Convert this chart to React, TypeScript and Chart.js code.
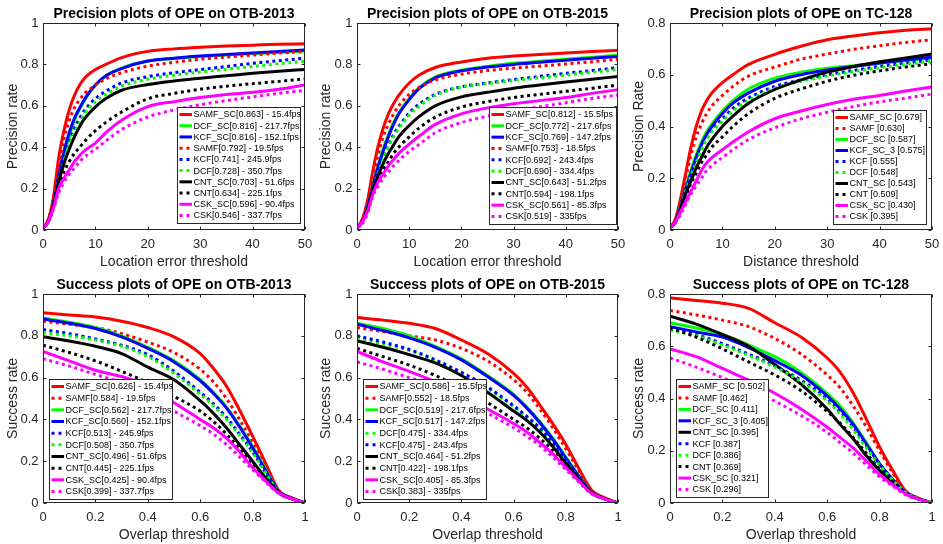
import React, { useEffect, useRef } from "react";
import { Chart, registerables } from "chart.js";
Chart.register(...registerables);

const FONT = "'Liberation Sans', Arial, sans-serif";

// ---- axes / ticks ----
const PREC_X = [0, 1, 2, 3, 4, 5, 6, 7, 8, 10, 12, 15, 20, 25, 30, 35, 40, 45, 50];
const SUCC_X = [0, 0.1, 0.2, 0.3, 0.4, 0.5, 0.6, 0.65, 0.7, 0.75, 0.8, 0.85, 0.9, 0.95, 1];
const PREC_XTICKS = [0, 10, 20, 30, 40, 50];
const UNIT_TICKS = [0, 0.2, 0.4, 0.6, 0.8, 1];
const TC_YTICKS = [0, 0.2, 0.4, 0.6, 0.8];

// ---- Precision OTB-2013 ----
const prec13Labels = ["SAMF_SC[0.863] - 15.4fps", "DCF_SC[0.816] - 217.7fps", "KCF_SC[0.816] - 152.1fps", "SAMF[0.792] - 19.5fps", "KCF[0.741] - 245.9fps", "DCF[0.728] - 350.7fps", "CNT_SC[0.703] - 51.6fps", "CNT[0.634] - 225.1fps", "CSK_SC[0.596] - 90.4fps", "CSK[0.546] - 337.7fps"];
const prec13Values = [
  [0.01, 0.05, 0.16, 0.35, 0.48, 0.58, 0.65, 0.70, 0.735, 0.775, 0.80, 0.833, 0.863, 0.875, 0.883, 0.889, 0.893, 0.897, 0.90],
  [0.01, 0.04, 0.13, 0.25, 0.36, 0.45, 0.53, 0.585, 0.63, 0.70, 0.745, 0.782, 0.816, 0.828, 0.838, 0.846, 0.852, 0.858, 0.865],
  [0.01, 0.04, 0.13, 0.27, 0.38, 0.47, 0.54, 0.59, 0.635, 0.70, 0.745, 0.78, 0.816, 0.83, 0.84, 0.848, 0.855, 0.862, 0.87],
  [0.01, 0.05, 0.15, 0.31, 0.44, 0.53, 0.59, 0.63, 0.66, 0.70, 0.73, 0.76, 0.792, 0.81, 0.825, 0.835, 0.845, 0.855, 0.862],
  [0.01, 0.04, 0.12, 0.24, 0.34, 0.42, 0.49, 0.54, 0.58, 0.635, 0.67, 0.71, 0.741, 0.76, 0.775, 0.79, 0.805, 0.818, 0.83],
  [0.01, 0.04, 0.12, 0.23, 0.33, 0.41, 0.47, 0.52, 0.565, 0.62, 0.655, 0.695, 0.728, 0.748, 0.763, 0.777, 0.79, 0.803, 0.815],
  [0.01, 0.04, 0.12, 0.23, 0.32, 0.39, 0.45, 0.50, 0.54, 0.595, 0.635, 0.675, 0.703, 0.72, 0.733, 0.745, 0.757, 0.767, 0.775],
  [0.01, 0.04, 0.11, 0.21, 0.28, 0.33, 0.37, 0.40, 0.43, 0.48, 0.52, 0.57, 0.634, 0.66, 0.68, 0.695, 0.707, 0.718, 0.73],
  [0.01, 0.04, 0.11, 0.20, 0.25, 0.29, 0.33, 0.36, 0.385, 0.42, 0.47, 0.53, 0.596, 0.62, 0.64, 0.655, 0.665, 0.68, 0.70],
  [0.01, 0.04, 0.10, 0.18, 0.23, 0.27, 0.30, 0.33, 0.355, 0.39, 0.43, 0.485, 0.546, 0.58, 0.605, 0.625, 0.643, 0.66, 0.675],
];

// ---- Precision OTB-2015 ----
const prec15Labels = ["SAMF_SC[0.812] - 15.5fps", "DCF_SC[0.772] - 217.6fps", "KCF_SC[0.769] - 147.2fps", "SAMF[0.753] - 18.5fps", "KCF[0.692] - 243.4fps", "DCF[0.690] - 334.4fps", "CNT_SC[0.643] - 51.2fps", "CNT[0.594] - 198.1fps", "CSK_SC[0.561] - 85.3fps", "CSK[0.519] - 335fps"];
const prec15Values = [
  [0.01, 0.05, 0.14, 0.28, 0.40, 0.49, 0.56, 0.61, 0.65, 0.71, 0.75, 0.785, 0.812, 0.83, 0.84, 0.848, 0.855, 0.862, 0.868],
  [0.01, 0.04, 0.11, 0.22, 0.31, 0.39, 0.46, 0.52, 0.565, 0.635, 0.69, 0.74, 0.772, 0.79, 0.805, 0.815, 0.825, 0.835, 0.845],
  [0.01, 0.04, 0.11, 0.21, 0.30, 0.38, 0.45, 0.51, 0.56, 0.63, 0.685, 0.735, 0.769, 0.787, 0.80, 0.81, 0.82, 0.83, 0.838],
  [0.01, 0.05, 0.13, 0.25, 0.36, 0.45, 0.51, 0.56, 0.60, 0.655, 0.69, 0.725, 0.753, 0.77, 0.782, 0.792, 0.802, 0.813, 0.825],
  [0.01, 0.04, 0.10, 0.20, 0.28, 0.35, 0.41, 0.46, 0.50, 0.565, 0.61, 0.655, 0.692, 0.71, 0.727, 0.742, 0.757, 0.77, 0.785],
  [0.01, 0.04, 0.10, 0.19, 0.27, 0.34, 0.40, 0.45, 0.49, 0.555, 0.60, 0.65, 0.690, 0.707, 0.722, 0.735, 0.748, 0.762, 0.775],
  [0.01, 0.04, 0.10, 0.19, 0.26, 0.32, 0.37, 0.41, 0.45, 0.505, 0.55, 0.60, 0.643, 0.665, 0.685, 0.70, 0.715, 0.728, 0.742],
  [0.01, 0.04, 0.09, 0.18, 0.24, 0.29, 0.33, 0.37, 0.40, 0.45, 0.495, 0.545, 0.594, 0.62, 0.64, 0.655, 0.67, 0.685, 0.70],
  [0.01, 0.04, 0.09, 0.17, 0.23, 0.27, 0.31, 0.34, 0.37, 0.415, 0.455, 0.51, 0.561, 0.59, 0.61, 0.625, 0.64, 0.66, 0.678],
  [0.01, 0.03, 0.08, 0.16, 0.21, 0.25, 0.28, 0.31, 0.335, 0.38, 0.415, 0.47, 0.519, 0.55, 0.575, 0.595, 0.615, 0.635, 0.652],
];

// ---- Precision TC-128 ----
const precTCLabels = ["SAMF_SC [0.679]", "SAMF [0.630]", "DCF_SC [0.587]", "KCF_SC_3 [0.575]", "KCF [0.555]", "DCF [0.548]", "CNT_SC [0.543]", "CNT [0.509]", "CSK_SC [0.430]", "CSK [0.395]"];
const precTCValues = [
  [0.01, 0.04, 0.12, 0.22, 0.32, 0.40, 0.46, 0.50, 0.53, 0.57, 0.60, 0.64, 0.679, 0.71, 0.735, 0.75, 0.762, 0.772, 0.778],
  [0.01, 0.04, 0.11, 0.20, 0.29, 0.36, 0.41, 0.45, 0.48, 0.52, 0.555, 0.595, 0.630, 0.66, 0.68, 0.698, 0.712, 0.725, 0.735],
  [0.01, 0.03, 0.09, 0.16, 0.23, 0.29, 0.34, 0.38, 0.41, 0.46, 0.50, 0.545, 0.587, 0.61, 0.625, 0.635, 0.645, 0.655, 0.665],
  [0.01, 0.03, 0.09, 0.16, 0.22, 0.28, 0.33, 0.37, 0.40, 0.45, 0.49, 0.53, 0.575, 0.60, 0.618, 0.632, 0.645, 0.657, 0.668],
  [0.01, 0.03, 0.08, 0.15, 0.21, 0.27, 0.32, 0.36, 0.39, 0.43, 0.47, 0.51, 0.555, 0.58, 0.60, 0.617, 0.632, 0.645, 0.658],
  [0.01, 0.03, 0.08, 0.15, 0.21, 0.26, 0.31, 0.35, 0.38, 0.42, 0.46, 0.50, 0.548, 0.575, 0.595, 0.612, 0.627, 0.64, 0.653],
  [0.01, 0.03, 0.08, 0.14, 0.19, 0.24, 0.28, 0.32, 0.35, 0.40, 0.44, 0.49, 0.543, 0.58, 0.61, 0.632, 0.65, 0.665, 0.68],
  [0.01, 0.03, 0.07, 0.13, 0.18, 0.22, 0.26, 0.29, 0.32, 0.36, 0.40, 0.45, 0.509, 0.545, 0.575, 0.598, 0.615, 0.63, 0.643],
  [0.01, 0.03, 0.07, 0.11, 0.15, 0.19, 0.23, 0.26, 0.28, 0.31, 0.34, 0.38, 0.430, 0.46, 0.485, 0.505, 0.52, 0.537, 0.553],
  [0.01, 0.03, 0.06, 0.10, 0.14, 0.17, 0.20, 0.23, 0.25, 0.28, 0.31, 0.35, 0.395, 0.43, 0.455, 0.477, 0.495, 0.51, 0.525],
];

// ---- Success OTB-2013 ----
const succ13Labels = ["SAMF_SC[0.626] - 15.4fps", "SAMF[0.584] - 19.5fps", "DCF_SC[0.562] - 217.7fps", "KCF_SC[0.560] - 152.1fps", "KCF[0.513] - 245.9fps", "DCF[0.508] - 350.7fps", "CNT_SC[0.496] - 51.6fps", "CNT[0.445] - 225.1fps", "CSK_SC[0.425] - 90.4fps", "CSK[0.399] - 337.7fps"];
const succ13Values = [
  [0.91, 0.90, 0.89, 0.87, 0.84, 0.795, 0.715, 0.645, 0.56, 0.445, 0.32, 0.19, 0.06, 0.025, 0],
  [0.87, 0.855, 0.84, 0.81, 0.77, 0.72, 0.64, 0.58, 0.50, 0.40, 0.29, 0.17, 0.058, 0.023, 0],
  [0.885, 0.865, 0.84, 0.80, 0.745, 0.68, 0.59, 0.53, 0.46, 0.37, 0.27, 0.16, 0.055, 0.022, 0],
  [0.88, 0.86, 0.835, 0.795, 0.74, 0.675, 0.585, 0.525, 0.455, 0.365, 0.265, 0.155, 0.055, 0.022, 0],
  [0.83, 0.81, 0.785, 0.755, 0.71, 0.63, 0.53, 0.475, 0.41, 0.33, 0.245, 0.145, 0.05, 0.02, 0],
  [0.815, 0.80, 0.78, 0.75, 0.70, 0.62, 0.52, 0.465, 0.40, 0.325, 0.24, 0.145, 0.05, 0.02, 0],
  [0.795, 0.775, 0.75, 0.715, 0.65, 0.59, 0.49, 0.43, 0.36, 0.28, 0.20, 0.12, 0.05, 0.02, 0],
  [0.755, 0.72, 0.68, 0.63, 0.575, 0.51, 0.44, 0.39, 0.33, 0.26, 0.19, 0.115, 0.048, 0.02, 0],
  [0.725, 0.68, 0.635, 0.605, 0.56, 0.48, 0.40, 0.36, 0.31, 0.245, 0.17, 0.105, 0.048, 0.02, 0],
  [0.69, 0.655, 0.615, 0.575, 0.52, 0.44, 0.37, 0.33, 0.28, 0.22, 0.16, 0.10, 0.045, 0.02, 0],
];

// ---- Success OTB-2015 ----
const succ15Labels = ["SAMF_SC[0.586] - 15.5fps", "SAMF[0.552] - 18.5fps", "DCF_SC[0.519] - 217.6fps", "KCF_SC[0.517] - 147.2fps", "DCF[0.475] - 334.4fps", "KCF[0.475] - 243.4fps", "CNT_SC[0.464] - 51.2fps", "CNT[0.422] - 198.1fps", "CSK_SC[0.405] - 85.3fps", "CSK[0.383] - 335fps"];
const succ15Values = [
  [0.887, 0.875, 0.86, 0.835, 0.78, 0.715, 0.62, 0.555, 0.47, 0.38, 0.28, 0.165, 0.06, 0.025, 0],
  [0.84, 0.82, 0.80, 0.78, 0.74, 0.68, 0.59, 0.53, 0.45, 0.36, 0.26, 0.155, 0.055, 0.022, 0],
  [0.86, 0.835, 0.80, 0.75, 0.69, 0.61, 0.52, 0.46, 0.39, 0.31, 0.22, 0.13, 0.05, 0.02, 0],
  [0.855, 0.825, 0.79, 0.745, 0.685, 0.605, 0.515, 0.455, 0.385, 0.305, 0.215, 0.128, 0.05, 0.02, 0],
  [0.79, 0.76, 0.73, 0.68, 0.62, 0.55, 0.46, 0.41, 0.355, 0.285, 0.20, 0.12, 0.048, 0.02, 0],
  [0.80, 0.77, 0.735, 0.685, 0.625, 0.555, 0.465, 0.415, 0.36, 0.29, 0.20, 0.12, 0.048, 0.02, 0],
  [0.775, 0.745, 0.71, 0.67, 0.61, 0.53, 0.44, 0.395, 0.34, 0.27, 0.19, 0.115, 0.048, 0.02, 0],
  [0.74, 0.70, 0.66, 0.61, 0.55, 0.48, 0.40, 0.36, 0.31, 0.25, 0.18, 0.11, 0.045, 0.02, 0],
  [0.725, 0.675, 0.63, 0.58, 0.52, 0.45, 0.38, 0.34, 0.29, 0.235, 0.17, 0.105, 0.045, 0.02, 0],
  [0.675, 0.64, 0.60, 0.56, 0.50, 0.43, 0.36, 0.32, 0.275, 0.22, 0.16, 0.10, 0.043, 0.02, 0],
];

// ---- Success TC-128 ----
const succTCLabels = ["SAMF_SC [0.502]", "SAMF [0.462]", "DCF_SC [0.411]", "KCF_SC_3 [0.405]", "CNT_SC [0.395]", "KCF [0.387]", "DCF [0.386]", "CNT [0.369]", "CSK_SC [0.321]", "CSK [0.296]"];
const succTCValues = [
  [0.785, 0.775, 0.765, 0.745, 0.69, 0.635, 0.555, 0.50, 0.42, 0.32, 0.215, 0.125, 0.045, 0.018, 0],
  [0.737, 0.72, 0.70, 0.675, 0.63, 0.57, 0.49, 0.44, 0.37, 0.29, 0.20, 0.115, 0.045, 0.018, 0],
  [0.69, 0.67, 0.645, 0.605, 0.56, 0.50, 0.42, 0.37, 0.305, 0.23, 0.15, 0.09, 0.04, 0.016, 0],
  [0.675, 0.655, 0.635, 0.595, 0.545, 0.49, 0.41, 0.36, 0.30, 0.225, 0.15, 0.09, 0.04, 0.016, 0],
  [0.715, 0.685, 0.645, 0.60, 0.53, 0.455, 0.36, 0.30, 0.245, 0.18, 0.125, 0.08, 0.035, 0.015, 0],
  [0.67, 0.645, 0.61, 0.57, 0.525, 0.47, 0.40, 0.35, 0.29, 0.22, 0.15, 0.09, 0.04, 0.016, 0],
  [0.66, 0.64, 0.605, 0.565, 0.52, 0.465, 0.39, 0.34, 0.28, 0.21, 0.145, 0.088, 0.04, 0.016, 0],
  [0.67, 0.635, 0.59, 0.54, 0.49, 0.43, 0.35, 0.305, 0.25, 0.19, 0.13, 0.08, 0.035, 0.015, 0],
  [0.59, 0.56, 0.515, 0.47, 0.42, 0.36, 0.29, 0.25, 0.21, 0.16, 0.11, 0.07, 0.035, 0.015, 0],
  [0.555, 0.52, 0.48, 0.44, 0.39, 0.335, 0.27, 0.23, 0.19, 0.145, 0.10, 0.065, 0.03, 0.014, 0],
];

const COLORS: Record<string, string> = { SAMF: "#ff0000", DCF: "#00ff00", KCF: "#0000ff", CNT: "#000000", CSK: "#ff00ff" };
const DOT = [3, 3.5];

function styleOf(label: string) {
  const name = label.split(/[\[ ]/)[0];
  const base = name.split("_")[0];
  return { color: COLORS[base] || "#000", solid: name.indexOf("_SC") >= 0 };
}

const matlabPlugin = {
  id: "matlab",
  afterDraw(chart: any, _args: any, opts: any) {
    const { ctx, chartArea: a } = chart;
    const L = Math.round(a.left) + 0.5, R = Math.round(a.right) - 0.5;
    const T = Math.round(a.top) + 0.5, B = Math.round(a.bottom) - 0.5;
    ctx.save();
    ctx.strokeStyle = "#262626";
    ctx.lineWidth = 1;
    ctx.setLineDash([]);
    ctx.strokeRect(L, T, R - L, B - T);
    const tl = 3;
    ctx.beginPath();
    const xs = chart.scales.x, ys = chart.scales.y;
    xs.ticks.forEach((t: any) => {
      const p = Math.round(xs.getPixelForValue(t.value)) + 0.5;
      ctx.moveTo(p, B); ctx.lineTo(p, B - tl);
      ctx.moveTo(p, T); ctx.lineTo(p, T + tl);
    });
    ys.ticks.forEach((t: any) => {
      const p = Math.round(ys.getPixelForValue(t.value)) + 0.5;
      ctx.moveTo(L, p); ctx.lineTo(L + tl, p);
      ctx.moveTo(R, p); ctx.lineTo(R - tl, p);
    });
    ctx.stroke();

    // legend
    const lg = opts.legend;
    if (lg) {
      const x0 = a.left + lg.x, y0 = a.top + lg.y;
      ctx.fillStyle = "#ffffff";
      ctx.fillRect(x0, y0, lg.w, lg.h);
      ctx.strokeStyle = "#262626";
      ctx.lineWidth = 1;
      ctx.strokeRect(Math.round(x0) + 0.5, Math.round(y0) + 0.5, Math.round(lg.w), Math.round(lg.h));
      const ds = chart.data.datasets;
      const m = 7.5;
      const pitch = (lg.h - 2 * m) / (ds.length - 1);
      ctx.font = `9px ${FONT}`;
      ctx.textBaseline = "middle";
      ctx.textAlign = "left";
      ds.forEach((d: any, i: number) => {
        const cy = y0 + m + i * pitch;
        ctx.strokeStyle = d.borderColor;
        ctx.lineWidth = 3;
        ctx.setLineDash(d.borderDash && d.borderDash.length ? [3, 4] : []);
        ctx.beginPath();
        ctx.moveTo(x0 + 2.5, cy);
        ctx.lineTo(x0 + 15, cy);
        ctx.stroke();
        ctx.setLineDash([]);
        ctx.fillStyle = "#000";
        ctx.fillText(d.label, x0 + 16.5, cy + 0.5);
      });
    }
    ctx.restore();
  },
};

type Spec = {
  left: number; top: number; yW: number; plotW: number; plotH: number;
  title: string; xTitle: string; yTitle: string;
  xs: number[]; labels: string[]; values: number[][];
  xMax: number; yMax: number; xTicks: number[]; yTicks: number[];
  legend: { x: number; y: number; w: number; h: number };
};

function Panel({ spec }: { spec: Spec }) {
  const ref = useRef<HTMLCanvasElement>(null);
  const W = spec.yW + spec.plotW + 11;
  const H = 23 + spec.plotH + 41;
  useEffect(() => {
    const n = spec.labels.length;
    const datasets = spec.labels.map((lab, i) => {
      const st = styleOf(lab);
      return {
        label: lab,
        data: spec.xs.map((x, j) => ({ x, y: spec.values[i][j] })),
        borderColor: st.color,
        backgroundColor: st.color,
        borderWidth: 3,
        borderDash: st.solid ? [] : DOT,
        pointRadius: 0,
        cubicInterpolationMode: "monotone",
        fill: false,
        order: n - i,
      };
    });
    const chart = new Chart(ref.current as HTMLCanvasElement, {
      type: "line",
      data: { datasets } as any,
      plugins: [matlabPlugin],
      options: {
        animation: false,
        responsive: false,
        devicePixelRatio: 1,
        layout: { padding: { left: 0, top: 0, right: 11, bottom: 0 } },
        plugins: {
          legend: { display: false },
          tooltip: { enabled: false },
          title: {
            display: true, text: spec.title, fullSize: false, color: "#000",
            font: { family: FONT, size: 14, weight: "bold" },
            padding: { top: 5.5, bottom: 0.7 },
          },
          matlab: { legend: spec.legend },
        } as any,
        scales: {
          x: {
            type: "linear", min: 0, max: spec.xMax,
            afterBuildTicks: (s: any) => { s.ticks = spec.xTicks.map((v) => ({ value: v })); },
            afterFit: (s: any) => { s.height = 41; s.paddingLeft = 0; s.paddingRight = 0; },
            grid: { display: false, drawTicks: false },
            border: { display: false },
            ticks: { color: "#262626", font: { family: FONT, size: 13 }, padding: 6.5, maxRotation: 0, autoSkip: false, callback: (v: any) => String(v) },
            title: { display: true, text: spec.xTitle, color: "#262626", font: { family: FONT, size: 14 }, padding: { top: 0, bottom: 0 } },
          },
          y: {
            type: "linear", min: 0, max: spec.yMax,
            afterBuildTicks: (s: any) => { s.ticks = spec.yTicks.map((v) => ({ value: v })); },
            afterFit: (s: any) => { s.width = spec.yW; s.paddingTop = 0; s.paddingBottom = 0; },
            grid: { display: false, drawTicks: false },
            border: { display: false },
            ticks: { color: "#262626", font: { family: FONT, size: 13 }, padding: 4.5, autoSkip: false, callback: (v: any) => String(v) },
            title: { display: true, text: spec.yTitle, color: "#262626", font: { family: FONT, size: 14 }, padding: { top: 4.5, bottom: 0 } },
          },
        } as any,
      },
    } as any);
    return () => chart.destroy();
  }, []);
  return (
    <canvas
      ref={ref}
      width={W}
      height={H}
      style={{ position: "absolute", left: spec.left, top: spec.top, width: W, height: H }}
    />
  );
}

const specs: Spec[] = [
  {
    left: 0, top: 0, yW: 43, plotW: 262, plotH: 207,
    title: "Precision plots of OPE on OTB-2013", xTitle: "Location error threshold", yTitle: "Precision rate",
    xs: PREC_X, labels: prec13Labels, values: prec13Values, xMax: 50, yMax: 1, xTicks: PREC_XTICKS, yTicks: UNIT_TICKS,
    legend: { x: 134, y: 84, w: 123, h: 116 },
  },
  {
    left: 313, top: 0, yW: 44, plotW: 261, plotH: 207,
    title: "Precision plots of OPE on OTB-2015", xTitle: "Location error threshold", yTitle: "Precision rate",
    xs: PREC_X, labels: prec15Labels, values: prec15Values, xMax: 50, yMax: 1, xTicks: PREC_XTICKS, yTicks: UNIT_TICKS,
    legend: { x: 132, y: 84, w: 127, h: 117 },
  },
  {
    left: 626, top: 0, yW: 44, plotW: 262, plotH: 207,
    title: "Precision plots of OPE on TC-128", xTitle: "Distance threshold", yTitle: "Precision Rate",
    xs: PREC_X, labels: precTCLabels, values: precTCValues, xMax: 50, yMax: 0.8, xTicks: PREC_XTICKS, yTicks: TC_YTICKS,
    legend: { x: 163, y: 87, w: 93, h: 114 },
  },
  {
    left: 0, top: 271, yW: 43, plotW: 262, plotH: 209,
    title: "Success plots of OPE on OTB-2013", xTitle: "Overlap threshold", yTitle: "Success rate",
    xs: SUCC_X, labels: succ13Labels, values: succ13Values, xMax: 1, yMax: 1, xTicks: UNIT_TICKS, yTicks: UNIT_TICKS,
    legend: { x: 6, y: 85, w: 123, h: 120 },
  },
  {
    left: 313, top: 271, yW: 44, plotW: 261, plotH: 209,
    title: "Success plots of OPE on OTB-2015", xTitle: "Overlap threshold", yTitle: "Success rate",
    xs: SUCC_X, labels: succ15Labels, values: succ15Values, xMax: 1, yMax: 1, xTicks: UNIT_TICKS, yTicks: UNIT_TICKS,
    legend: { x: 6, y: 85, w: 123, h: 120 },
  },
  {
    left: 626, top: 271, yW: 44, plotW: 262, plotH: 209,
    title: "Success plots of OPE on TC-128", xTitle: "Overlap threshold", yTitle: "Success rate",
    xs: SUCC_X, labels: succTCLabels, values: succTCValues, xMax: 1, yMax: 0.8, xTicks: UNIT_TICKS, yTicks: TC_YTICKS,
    legend: { x: 6, y: 85, w: 92, h: 118 },
  },
];

export default function App() {
  return (
    <div style={{ position: "absolute", left: 0, top: 0, width: 943, height: 544, background: "#fff", overflow: "hidden" }}>
      {specs.map((s, i) => (
        <Panel key={i} spec={s} />
      ))}
    </div>
  );
}
